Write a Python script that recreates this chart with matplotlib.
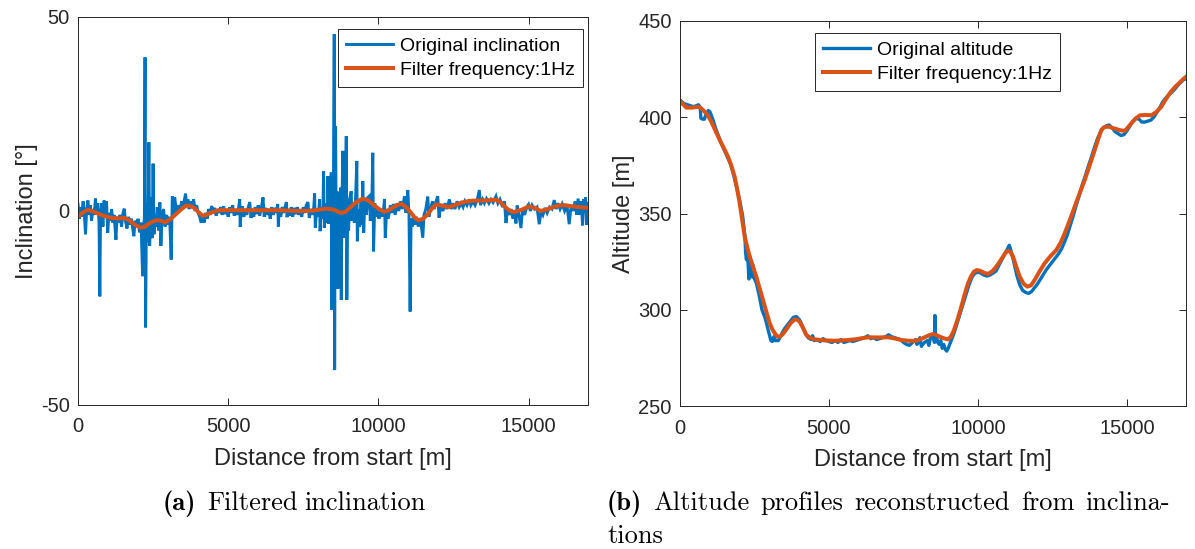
import matplotlib
matplotlib.use("Agg")
import matplotlib.pyplot as plt

plt.rcParams['font.family'] = ['Liberation Sans', 'DejaVu Sans']
plt.rcParams['axes.unicode_minus'] = False

# ---------------- data: inclination (left) ----------------
incl_x = [0, 40, 80, 120, 170, 210, 250, 290, 330, 370, 410, 450, 500, 540, 580, 620, 660, 700, 727, 750,
          790, 830, 870, 910, 950, 990, 1030, 1080, 1120, 1160, 1200, 1263, 1300, 1350, 1400, 1450, 1500, 1540, 1580, 1630,
          1680, 1730, 1780, 1830, 1860, 1900, 1950, 2000, 2050, 2100, 2150, 2180, 2210, 2232, 2250, 2275, 2300, 2330, 2360, 2385,
          2410, 2440, 2470, 2500, 2530, 2560, 2600, 2640, 2680, 2726, 2760, 2800, 2850, 2900, 2950, 3000, 3050, 3102, 3140, 3180,
          3220, 3260, 3300, 3350, 3400, 3450, 3500, 3580, 3620, 3660, 3700, 3750, 3800, 3850, 3900, 3950, 4000, 4050, 4100, 4150,
          4200, 4250, 4300, 4350, 4400, 4450, 4500, 4550, 4600, 4650, 4700, 4750, 4800, 4850, 4900, 4950, 5000, 5050, 5100, 5150,
          5200, 5250, 5300, 5350, 5385, 5400, 5430, 5470, 5520, 5570, 5620, 5670, 5717, 5760, 5800, 5850, 5900, 5950, 6000, 6050,
          6100, 6160, 6200, 6250, 6300, 6350, 6400, 6450, 6500, 6550, 6600, 6650, 6670, 6700, 6750, 6800, 6850, 6900, 6937, 6960,
          7000, 7050, 7100, 7150, 7200, 7250, 7300, 7350, 7400, 7450, 7500, 7550, 7600, 7656, 7700, 7750, 7800, 7850, 7878, 7900,
          7950, 8000, 8044, 8060, 8100, 8150, 8177, 8200, 8250, 8300, 8321, 8350, 8400, 8432, 8445, 8470, 8500, 8531, 8545, 8560,
          8576, 8600, 8630, 8653, 8680, 8710, 8740, 8765, 8790, 8820, 8840, 8870, 8900, 8931, 8950, 8980, 9010, 9040, 9097, 9120,
          9160, 9200, 9240, 9283, 9300, 9340, 9380, 9424, 9450, 9483, 9513, 9550, 9600, 9650, 9706, 9730, 9780, 9815, 9840, 9880,
          9940, 9981, 10020, 10080, 10150, 10205, 10230, 10280, 10330, 10400, 10450, 10500, 10560, 10620, 10680, 10740, 10800, 10870, 10920, 10981,
          11020, 11058, 11090, 11130, 11170, 11220, 11270, 11330, 11400, 11479, 11520, 11580, 11645, 11680, 11750, 11800, 11860, 11920, 11977, 12020,
          12080, 12150, 12220, 12280, 12365, 12420, 12480, 12550, 12620, 12690, 12753, 12820, 12880, 12950, 13030, 13080, 13150, 13220, 13290, 13362,
          13400, 13473, 13530, 13600, 13680, 13750, 13820, 13917, 13980, 14050, 14138, 14200, 14249, 14300, 14360, 14420, 14480, 14530, 14581, 14620,
          14680, 14747, 14800, 14870, 14940, 15000, 15060, 15120, 15200, 15280, 15357, 15420, 15480, 15550, 15620, 15700, 15780, 15855, 15920, 15980,
          16050, 16120, 16200, 16280, 16354, 16420, 16480, 16550, 16600, 16650, 16700, 16750, 16800, 16830, 16870, 16900, 16930, 16960]
incl_y = [1.8, -2.0, 1.0, -1.5, 2.5, -0.5, -6.0, 0.5, 2.7, -1.0, 1.5, -2.5, 0.5, -1.0, 3.2, -0.5, 2.0, -3.0, -22.0, -1.0,
          2.0, -4.0, 2.7, -1.5, 2.5, -5.6, -0.5, -2.5, 0.5, -3.0, -1.0, -7.4, -1.5, -3.0, -1.0, -4.0, -0.5, 0.6, -2.5, -4.5,
          -1.5, -3.5, -2.0, -5.0, -6.5, -2.5, -4.0, -2.0, -5.5, -3.0, -16.8, -4.0, -2.0, 39.6, -30.0, -5.0, 2.0, -8.0, 17.7, -9.0,
          -3.0, 3.5, -7.0, 12.2, -6.0, -1.0, -4.0, 1.0, -5.0, 2.2, -9.0, -1.0, 0.5, -4.0, -1.0, -3.5, -1.5, -12.5, 3.8, -1.0,
          3.5, 1.0, -0.5, 1.5, 0.0, 2.5, 1.0, 4.5, 1.5, 3.0, 0.5, 2.5, 0.8, 3.0, 0.0, 1.5, -0.5, -1.5, -3.0, -2.0,
          -3.0, -0.5, -2.0, 0.5, -1.0, 1.3, -0.5, 0.8, -1.2, 0.5, -0.5, 1.0, -1.0, 1.2, -0.8, 0.5, -1.5, 1.0, -0.5, 1.5,
          -1.2, 0.3, -1.0, 1.0, 3.0, -4.1, -0.5, 1.2, -1.5, 0.5, -1.0, 1.0, 2.3, -1.8, 0.5, -1.5, 1.0, -0.8, 1.5, -1.2,
          0.6, 3.5, -1.5, 0.8, -1.0, 0.5, -2.0, 1.0, -1.0, 0.8, -0.5, 1.8, -4.0, 0.5, -1.5, 1.0, -0.5, 1.2, 2.3, -1.6,
          0.5, -1.2, 1.0, -1.5, 0.8, -0.8, 1.0, -1.0, 0.5, -1.5, 1.0, -0.5, 1.5, 2.3, -1.8, 0.5, -1.0, 1.0, 4.5, -4.3,
          0.5, -1.5, 3.0, -5.2, 1.0, -2.0, 10.3, -4.3, 2.0, -3.0, 9.0, -3.3, 2.5, 9.9, -25.5, 3.0, -6.0, 45.6, -41.0, 2.0,
          21.9, -8.0, 5.0, -20.0, 1.0, -3.0, 6.0, -22.9, 3.0, 15.5, -6.9, 2.0, -4.0, 19.3, -22.9, 2.0, -5.0, 3.0, 5.1, -2.5,
          1.5, -3.0, 3.0, 12.9, -7.8, 0.5, -4.0, 2.5, -3.5, 7.7, -5.6, 3.0, -1.0, 3.5, 3.9, -2.5, 1.0, 15.0, -10.4, 2.0,
          -1.5, 1.0, -2.0, 0.5, -1.5, 3.1, -6.9, 0.5, -2.0, 1.5, -0.5, 1.8, -1.0, 2.0, 0.0, 2.5, 0.5, 3.8, -0.5, 5.4,
          -1.0, -25.9, -2.0, -4.0, -1.0, -3.5, -1.5, -4.0, -2.0, -6.9, -1.0, 0.5, 3.7, -1.5, 1.0, 2.5, 0.5, 2.5, 3.8, -1.7,
          1.5, 0.0, 2.0, 0.5, 3.0, 0.5, 2.0, 0.5, 2.5, 1.0, 2.0, 1.0, 2.5, 1.5, 3.0, 1.5, 2.5, 1.5, 2.8, 5.4,
          1.5, 3.0, 2.0, 3.2, 2.0, 3.0, 2.2, 3.8, 2.0, 3.0, 1.0, 2.5, -3.1, 0.5, -1.0, 0.5, -2.0, 0.0, -3.2, 1.4,
          -1.0, -4.4, 0.5, -1.0, 1.0, 1.7, 0.0, 1.5, 0.5, 1.0, -3.4, 0.0, -1.0, 0.8, -0.5, 1.0, 0.5, 2.8, 0.5, 2.0,
          0.5, 1.8, 0.0, 1.5, -3.4, 1.5, 0.0, 2.5, -1.0, 3.2, -1.0, 2.5, -3.7, 3.0, -0.5, 3.5, -3.5, 2.0]

filt_incl_x = [0, 160, 320, 500, 700, 920, 1150, 1350, 1550, 1680, 1800, 1950, 2100, 2220, 2320, 2460, 2600, 2750, 2900, 3080,
               3250, 3430, 3600, 3740, 3870, 4010, 4150, 4280, 4400, 4550, 4700, 5100, 5500, 6000, 6600, 7000, 7400, 7800, 8250, 8500,
               8750, 8900, 9050, 9250, 9450, 9600, 9740, 9870, 10040, 10200, 10370, 10530, 10650, 10780, 10940, 11090, 11210, 11330, 11490, 11640,
               11780, 11920, 12120, 12330, 12540, 12750, 12900, 13060, 13300, 13530, 13720, 13920, 14060, 14200, 14350, 14500, 14760, 15020, 15210, 15410,
               15690, 15970, 16210, 16460, 16700, 16980]
filt_incl_y = [-1.4, -0.4, 0.3, -0.1, -0.8, -1.4, -1.8, -1.9, -1.8, -2.3, -3.0, -3.8, -4.3, -4.1, -3.5, -2.8, -2.4, -2.5, -2.9, -2.1,
               -0.9, 0.4, 1.4, 1.3, 0.8, -0.3, -1.2, -1.0, -0.5, -0.1, 0.2, 0.2, 0.2, 0.2, 0.2, 0.1, 0.0, 0.1, 0.6, 0.4,
               -0.5, -0.2, 0.8, 2.2, 3.1, 3.0, 2.3, 1.4, 0.4, -0.2, 0.3, 1.1, 1.6, 1.8, 0.9, -0.5, -1.7, -2.4, -2.0, -0.9,
               0.6, 1.7, 1.4, 1.0, 1.5, 2.1, 2.4, 2.6, 2.7, 2.7, 2.8, 2.9, 2.3, 1.2, 0.2, -0.3, 0.3, 1.2, 0.8, 0.0,
               0.6, 1.4, 1.5, 1.2, 1.0, 0.8]

# ---------------- data: altitude (right) ----------------
alt_x = [0, 60, 150, 250, 350, 450, 550, 620, 680, 700, 760, 820, 860, 900, 950, 1000, 1050, 1120, 1200, 1300,
         1400, 1500, 1600, 1700, 1800, 1900, 2000, 2100, 2180, 2200, 2230, 2260, 2290, 2310, 2340, 2370, 2400, 2430, 2460, 2500,
         2560, 2650, 2750, 2850, 2950, 3050, 3100, 3150, 3200, 3300, 3400, 3500, 3600, 3700, 3800, 3900, 4000, 4100, 4200, 4300,
         4400, 4450, 4500, 4600, 4700, 4800, 4900, 5000, 5100, 5200, 5300, 5400, 5500, 5600, 5700, 5800, 5900, 6000, 6100, 6200,
         6300, 6400, 6500, 6600, 6700, 6800, 6900, 7000, 7100, 7200, 7300, 7400, 7500, 7600, 7700, 7800, 7900, 7950, 8000, 8050,
         8100, 8200, 8300, 8350, 8400, 8450, 8500, 8540, 8555, 8570, 8600, 8650, 8700, 8750, 8800, 8850, 8900, 8950, 9000, 9050,
         9100, 9200, 9300, 9400, 9500, 9600, 9700, 9800, 9900, 10000, 10100, 10200, 10300, 10400, 10500, 10600, 10700, 10800, 10900, 11000,
         11050, 11100, 11200, 11300, 11400, 11500, 11600, 11700, 11800, 11900, 12000, 12100, 12200, 12300, 12400, 12500, 12600, 12700, 12800, 12900,
         13000, 13100, 13200, 13300, 13400, 13500, 13600, 13700, 13800, 13900, 14000, 14100, 14200, 14300, 14400, 14500, 14600, 14700, 14800, 14900,
         15000, 15100, 15200, 15300, 15400, 15500, 15600, 15700, 15800, 15900, 16000, 16100, 16200, 16300, 16400, 16500, 16600, 16700, 16800, 16900,
         16980]
alt_y = [409, 408, 407, 406.5, 406, 405.5, 406, 406.5, 405, 399.5, 399, 399, 401, 402, 403.5, 403, 401, 398, 394, 390,
         386, 382.5, 379, 375.5, 370, 363.5, 357, 349, 338, 330, 326, 333, 322, 316, 328, 318, 325, 317, 323, 316,
         314, 308, 300, 296, 290, 284, 283.5, 286, 284, 284, 287, 290, 292, 294, 296, 296.5, 295, 292, 288, 285.5,
         284.5, 286.5, 284, 284.5, 283.5, 285, 284, 283.5, 283, 284, 283, 284.5, 283, 283.5, 284, 283.5, 284, 284.5, 285, 285.5,
         286.5, 285, 285.5, 284.5, 285, 285.5, 286, 287, 286, 285.5, 285, 284.5, 283, 282, 281.5, 283, 284.5, 282, 283, 285.5,
         281, 283, 284, 281.5, 285, 286, 285.5, 283, 297, 284, 287, 283, 282, 284, 280, 282, 279.5, 278.5, 280, 282,
         284, 288, 293, 298, 303, 308, 313, 317, 319, 319.5, 319, 318, 317.5, 318, 319, 320, 323, 326, 329, 332,
         333.5, 331, 325, 318, 313, 310, 309, 308.5, 309.5, 311.5, 313.5, 316, 318.5, 321, 323, 325, 327, 329, 331.5, 335,
         339, 344, 349, 354.5, 359.5, 365, 369.5, 374.5, 379, 384, 388.5, 392, 394.5, 395.5, 396, 394.5, 392.5, 391.5, 390.5, 391,
         393, 395.5, 398, 399.5, 399, 397.5, 397.5, 398, 398.5, 400, 402.5, 405, 408, 410, 411.5, 413, 414.5, 416.5, 418, 419.5,
         420]

filt_alt_x = [0, 100, 213, 400, 604, 700, 828, 940, 1050, 1190, 1332, 1470, 1611, 1720, 1835, 1920, 2003, 2090, 2171, 2255,
              2339, 2450, 2561, 2670, 2786, 2900, 3010, 3100, 3178, 3260, 3346, 3450, 3569, 3710, 3849, 3930, 4017, 4130, 4240, 4380,
              4521, 4850, 5192, 5500, 5863, 6100, 6310, 6650, 6981, 7200, 7427, 7650, 7876, 8050, 8212, 8350, 8491, 8600, 8716, 8850,
              8994, 9100, 9195, 9320, 9441, 9550, 9665, 9767, 9867, 9960, 10058, 10200, 10336, 10480, 10615, 10730, 10840, 10920, 11008, 11090,
              11176, 11290, 11400, 11530, 11655, 11780, 11903, 12070, 12239, 12430, 12628, 12770, 12910, 13080, 13246, 13414, 13582, 13750, 13917, 14030,
              14140, 14230, 14308, 14420, 14533, 14602, 14750, 14923, 15050, 15180, 15310, 15437, 15630, 15823, 15990, 16144, 16300, 16465, 16630, 16787,
              16900, 16980]
filt_alt_y = [408.2, 406.8, 405.0, 405.0, 405.4, 404.8, 402.9, 400.8, 397.7, 393.0, 388.2, 384.0, 379.5, 375.0, 369.1, 362.5, 355.3, 346.5, 337.9, 332.5,
              327.6, 322.3, 317.2, 311.2, 305.0, 298.8, 293.0, 289.8, 287.8, 286.2, 286.0, 287.3, 289.8, 293.0, 295.0, 294.8, 293.8, 290.5, 286.9, 285.3,
              284.6, 284.1, 283.9, 284.1, 284.6, 285.2, 285.7, 285.6, 285.7, 285.1, 284.3, 283.9, 283.8, 284.5, 285.7, 286.7, 287.4, 286.9, 286.0, 285.2,
              284.6, 286.2, 289.5, 295.2, 301.6, 307.8, 313.7, 317.4, 319.8, 320.6, 320.3, 319.2, 318.6, 320.0, 322.4, 325.0, 327.6, 329.5, 330.7, 330.0,
              327.6, 322.0, 317.2, 313.5, 312.0, 312.7, 315.5, 320.0, 324.2, 327.8, 331.0, 334.8, 339.7, 346.5, 353.6, 360.6, 367.4, 375.2, 383.0, 388.5,
              393.4, 394.8, 395.1, 395.0, 394.3, 394.1, 393.3, 392.9, 395.0, 397.5, 399.6, 401.0, 401.2, 401.0, 402.8, 405.3, 409.3, 413.1, 416.0, 418.3,
              420.0, 421.0]

x_ticks = [0, 5000, 10000, 15000]
incl_ticks = [-50, 0, 50]
alt_ticks = [250, 300, 350, 400, 450]
labels_left = ["Original inclination", "Filter frequency:1Hz"]
labels_right = ["Original altitude", "Filter frequency:1Hz"]

BLUE = "#0072BD"
ORANGE = "#D95319"
AXC = "#262626"

W, H = 1195, 549
fig = plt.figure(figsize=(W / 100, H / 100), dpi=100)

def px_axes(x0, y0, x1, y1):
    return fig.add_axes([x0 / W, 1 - y1 / H, (x1 - x0) / W, (y1 - y0) / H])

ax1 = px_axes(78, 17, 588, 405)
ax2 = px_axes(680, 21, 1186, 406)

def style(ax):
    for s in ax.spines.values():
        s.set_color(AXC)
        s.set_linewidth(0.7)
    ax.tick_params(direction="in", length=5, width=0.7, colors=AXC, labelsize=14.5,
                   top=True, right=True, labelcolor=AXC)
    ax.tick_params(axis="x", pad=9)
    ax.tick_params(axis="y", pad=6)

LBL = 17

ax1.plot(incl_x, incl_y, color=BLUE, lw=2.1, label=labels_left[0], solid_joinstyle="miter")
ax1.plot(filt_incl_x, filt_incl_y, color=ORANGE, lw=2.9, label=labels_left[1])
ax1.set_xlim(0, 16980)
ax1.set_ylim(-50, 50)
ax1.set_xticks(x_ticks)
ax1.set_yticks(incl_ticks)
style(ax1)
ax1.set_xlabel("Distance from start [m]", fontsize=LBL, color=AXC, labelpad=8)
ax1.set_ylabel("Inclination [°]", fontsize=LBL, color=AXC, labelpad=2)

ax2.plot(alt_x, alt_y, color=BLUE, lw=2.4, label=labels_right[0])
ax2.plot(filt_alt_x, filt_alt_y, color=ORANGE, lw=2.9, label=labels_right[1])
ax2.set_xlim(0, 16980)
ax2.set_ylim(250, 450)
ax2.set_xticks(x_ticks)
ax2.set_yticks(alt_ticks)
style(ax2)
ax2.set_xlabel("Distance from start [m]", fontsize=LBL, color=AXC, labelpad=8)
ax2.set_ylabel("Altitude [m]", fontsize=LBL, color=AXC, labelpad=2)

def add_legend(ax, xpx, ypx):
    leg = ax.legend(loc="upper left", bbox_to_anchor=(xpx / W, 1 - ypx / H),
                    bbox_transform=fig.transFigure, borderaxespad=0, fontsize=14,
                    frameon=True, fancybox=False, framealpha=1, edgecolor=AXC,
                    handlelength=2.4, handletextpad=0.35, labelspacing=0.35,
                    borderpad=0.42)
    leg.get_frame().set_linewidth(0.7)
    for t in leg.get_texts():
        t.set_color("black")
    return leg

add_legend(ax1, 338, 29)
add_legend(ax2, 815, 33)

# captions
renderer = fig.canvas.get_renderer()
cap_size = 19

def caption(xpx, ybase_px, tag, words, right_px=None):
    t = fig.text(xpx / W, 1 - ybase_px / H, tag, family="cmb10", fontsize=cap_size,
                 va="baseline", ha="left")
    bb = t.get_window_extent(renderer)
    start = bb.x1 + 11
    objs = [fig.text(0, 1 - ybase_px / H, w, family="cmr10", fontsize=cap_size,
                     va="baseline", ha="left") for w in words]
    widths = [o.get_window_extent(renderer).width for o in objs]
    space = 6.5
    if right_px is not None and len(words) > 1:
        space = (right_px - start - sum(widths)) / (len(words) - 1)
    x = start
    for o, wd in zip(objs, widths):
        o.set_x(x / W)
        x += wd + space

caption(163, 510, "(a)", ["Filtered", "inclination"])
caption(607, 510, "(b)", ["Altitude", "profiles", "reconstructed", "from", "inclina-"], right_px=1170)
fig.text(607 / W, 1 - 543 / H, "tions", family="cmr10", fontsize=cap_size, va="baseline", ha="left")

fig.savefig("out.png", dpi=100)
